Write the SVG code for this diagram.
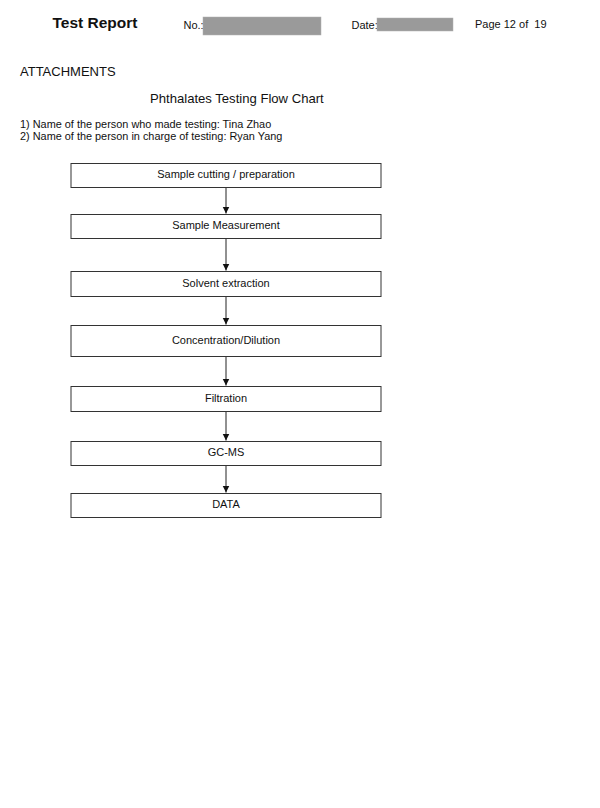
<svg xmlns="http://www.w3.org/2000/svg" width="600" height="808" viewBox="0 0 600 808">
<style>
text{font-family:"Liberation Sans",Arial,sans-serif;fill:#111;}
.hd{font-size:11px;}
.tt{font-size:15.5px;font-weight:bold;}
.red{fill:#9a9a9a;stroke:#b0b0b0;stroke-width:0.5;}
.box{fill:#fff;stroke:#333;stroke-width:1;}
.lbl{font-size:11px;text-anchor:middle;}
.con{stroke:#222;stroke-width:1;fill:none;}
</style>
<defs>
<marker id="ah" markerWidth="8" markerHeight="9" refX="7" refY="3.5" orient="auto" markerUnits="userSpaceOnUse">
<path d="M0,0 L7,3.5 L0,7 Z" fill="#111"/>
</marker>
</defs>
<rect width="600" height="808" fill="#fff"/>
<g id="header">
<text class="tt" x="52.5" y="28">Test Report</text>
<text class="hd" x="183.5" y="29">No.:</text>
<rect class="red" x="203" y="17" width="118" height="18"/>
<text class="hd" x="351.5" y="29">Date:</text>
<rect class="red" x="377" y="18" width="76" height="13"/>
<text class="hd" x="475" y="28" xml:space="preserve">Page 12 of  19</text>
</g>
<g id="intro">
<text x="20" y="76" style="font-size:13px">ATTACHMENTS</text>
<text x="150" y="103" style="font-size:13.1px">Phthalates Testing Flow Chart</text>
<text x="20" y="128" style="font-size:10.9px">1) Name of the person who made testing: Tina Zhao</text>
<text x="20" y="140" style="font-size:10.9px">2) Name of the person in charge of testing: Ryan Yang</text>
</g>
<g id="connectors">
<line class="con" x1="226" y1="187.5" x2="226" y2="213.5" marker-end="url(#ah)"/>
<line class="con" x1="226" y1="238.5" x2="226" y2="270.5" marker-end="url(#ah)"/>
<line class="con" x1="226" y1="296.5" x2="226" y2="324.5" marker-end="url(#ah)"/>
<line class="con" x1="226" y1="356.5" x2="226" y2="385.5" marker-end="url(#ah)"/>
<line class="con" x1="226" y1="411.5" x2="226" y2="440.5" marker-end="url(#ah)"/>
<line class="con" x1="226" y1="465.5" x2="226" y2="492.5" marker-end="url(#ah)"/>
</g>
<g id="n1"><rect class="box" x="71" y="163.5" width="310" height="24"/><text class="lbl" x="226" y="178">Sample cutting / preparation</text></g>
<g id="n2"><rect class="box" x="71" y="214.5" width="310" height="24"/><text class="lbl" x="226" y="229">Sample Measurement</text></g>
<g id="n3"><rect class="box" x="71" y="271.5" width="310" height="25"/><text class="lbl" x="226" y="286.5">Solvent extraction</text></g>
<g id="n4"><rect class="box" x="71" y="325.5" width="310" height="31"/><text class="lbl" x="226" y="343.5">Concentration/Dilution</text></g>
<g id="n5"><rect class="box" x="71" y="386.5" width="310" height="25"/><text class="lbl" x="226" y="401.5">Filtration</text></g>
<g id="n6"><rect class="box" x="71" y="441.5" width="310" height="24"/><text class="lbl" x="226" y="456">GC-MS</text></g>
<g id="n7"><rect class="box" x="71" y="493.5" width="310" height="24"/><text class="lbl" x="226" y="508">DATA</text></g>
</svg>
